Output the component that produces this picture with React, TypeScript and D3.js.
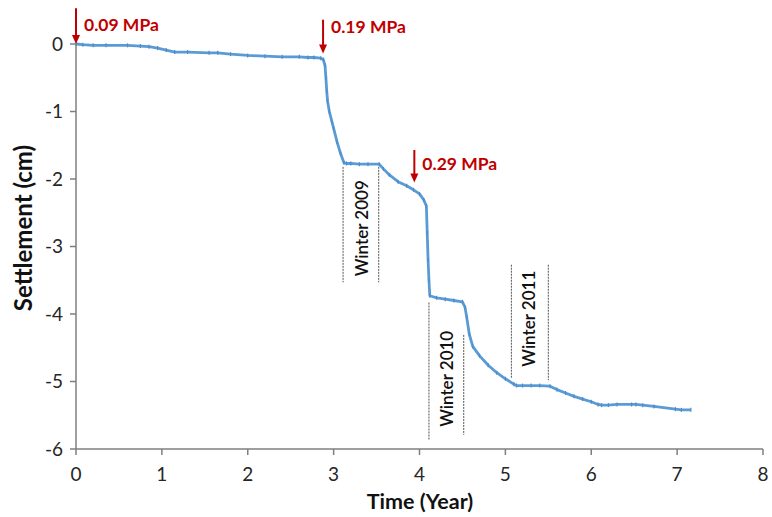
import React from "react";
import * as d3 from "d3";

const timeYears = [0, 0.08, 0.2, 0.35, 0.6, 0.75, 0.85, 0.95, 1.05, 1.15, 1.3, 1.55, 1.65, 1.8, 2.0, 2.2, 2.4, 2.6, 2.7, 2.77, 2.85, 2.88, 2.9, 2.91, 2.92, 2.93, 2.95, 2.98, 3.0, 3.04, 3.08, 3.12, 3.15, 3.2, 3.3, 3.4, 3.53, 3.58, 3.65, 3.75, 3.85, 3.93, 4.0, 4.05, 4.08, 4.09, 4.1, 4.11, 4.12, 4.2, 4.3, 4.4, 4.5, 4.53, 4.55, 4.58, 4.62, 4.7, 4.8, 4.9, 5.0, 5.1, 5.13, 5.2, 5.3, 5.4, 5.52, 5.6, 5.7, 5.8, 5.9, 6.0, 6.08, 6.12, 6.2, 6.3, 6.47, 6.52, 6.6, 6.73, 6.98, 7.05, 7.16];
const settlementCm = [0, -0.01, -0.02, -0.02, -0.02, -0.03, -0.04, -0.06, -0.09, -0.12, -0.12, -0.13, -0.13, -0.15, -0.17, -0.18, -0.19, -0.19, -0.2, -0.2, -0.21, -0.23, -0.32, -0.5, -0.7, -0.85, -1.0, -1.15, -1.25, -1.45, -1.62, -1.76, -1.77, -1.77, -1.78, -1.78, -1.78, -1.85, -1.94, -2.04, -2.1, -2.16, -2.22, -2.31, -2.4, -2.8, -3.2, -3.5, -3.73, -3.76, -3.78, -3.8, -3.82, -3.9, -4.05, -4.3, -4.48, -4.62, -4.76, -4.87, -4.96, -5.04, -5.06, -5.06, -5.06, -5.06, -5.07, -5.12, -5.17, -5.22, -5.26, -5.3, -5.34, -5.35, -5.35, -5.34, -5.34, -5.34, -5.35, -5.37, -5.41, -5.42, -5.42];

const xTicks = [0, 1, 2, 3, 4, 5, 6, 7, 8];
const yTicks = [0, -1, -2, -3, -4, -5, -6];

// load-step arrows: time, top value, tip value, label
const loadTimes = [0, 2.877, 3.94];
const loadTop = [0.53, 0.36, -1.57];
const loadTip = [0, -0.14, -2.05];
const loadLabels = ["0.09 MPa", "0.19 MPa", "0.29 MPa"];
const loadLabelY = [0.2, 0.17, -1.86];

// winter periods: start/end time, dashed line extents, label
const winterLabels = ["Winter 2009", "Winter 2010", "Winter 2011"];
const winterStart = [3.11, 4.11, 5.07];
const winterEnd = [3.525, 4.515, 5.5];
const winterStartTop = [-1.82, -3.83, -3.27];
const winterStartBottom = [-3.53, -5.87, -4.95];
const winterEndTop = [-1.82, -4.31, -3.27];
const winterEndBottom = [-3.53, -5.79, -4.98];
const winterLabelT = [3.33, 4.32, 5.27];
const winterLabelS = [-2.73, -4.96, -4.07];

const W = 772;
const H = 517;
const FONT = "Lato, 'Open Sans', sans-serif";
const RED = "#C00000";
const BLUE = "#5B9BD5";
const AXIS = "#7f7f7f";

export default function App() {
  const x = d3.scaleLinear().domain([0, 8]).range([76, 763]);
  const y = d3.scaleLinear().domain([0, -6]).range([44, 449]);
  const pts = timeYears.map((t, i) => [t, settlementCm[i]] as [number, number]);
  const line = d3.line<[number, number]>().x((d) => x(d[0])).y((d) => y(d[1]));

  return (
    <svg width={W} height={H} style={{ position: "absolute", left: 0, top: 0, background: "#fff" }} fontFamily={FONT}>
      {/* axes */}
      <line x1={x(0)} x2={x(8)} y1={y(-6)} y2={y(-6)} stroke={AXIS} strokeWidth={1.5} />
      <line x1={x(0)} x2={x(0)} y1={y(0)} y2={y(-6)} stroke={AXIS} strokeWidth={1.5} />
      {xTicks.map((t) => (
        <g key={"xt" + t}>
          <line x1={x(t)} x2={x(t)} y1={y(-6)} y2={y(-6) + 6} stroke={AXIS} strokeWidth={1.5} />
          <text x={x(t)} y={y(-6) + 32} textAnchor="middle" fontSize={19} fill="#262626">{t}</text>
        </g>
      ))}
      {yTicks.map((v) => (
        <g key={"yt" + v}>
          <line x1={x(0) - 6} x2={x(0)} y1={y(v)} y2={y(v)} stroke={AXIS} strokeWidth={1.5} />
          <text x={x(0) - 13} y={y(v)} dy="0.36em" textAnchor="end" fontSize={19} fill="#262626">{v}</text>
        </g>
      ))}
      <text x={420} y={509} textAnchor="middle" fontSize={21.5} fontWeight="bold" fill="#111">Time (Year)</text>
      <text transform={`translate(32,${228}) rotate(-90)`} textAnchor="middle" fontSize={24} fontWeight="bold" fill="#111">Settlement (cm)</text>

      {/* winter dashed lines */}
      {winterLabels.map((lab, i) => (
        <g key={lab}>
          <line x1={x(winterStart[i])} x2={x(winterStart[i])} y1={y(winterStartTop[i])} y2={y(winterStartBottom[i])} stroke="#555" strokeWidth={1} strokeDasharray="2,1" />
          <line x1={x(winterEnd[i])} x2={x(winterEnd[i])} y1={y(winterEndTop[i])} y2={y(winterEndBottom[i])} stroke="#555" strokeWidth={1} strokeDasharray="2,1" />
          <text transform={`translate(${x(winterLabelT[i])},${y(winterLabelS[i])}) rotate(-90)`} textAnchor="middle" dy="0.36em" fontSize={17} fontWeight={600} fill="#111">{lab}</text>
        </g>
      ))}

      {/* data line */}
      <path d={line(pts) || ""} fill="none" stroke={BLUE} strokeWidth={2.8} strokeLinejoin="round" />
      {pts.map((p, i) => (
        <g key={"m" + i}>
          <line x1={x(p[0])} x2={x(p[0])} y1={y(p[1]) - 2} y2={y(p[1]) + 2} stroke="#4a8ccc" strokeWidth={1.2} />
        </g>
      ))}

      {/* load arrows */}
      {loadLabels.map((lab, i) => {
        const ax = x(loadTimes[i]);
        const top = y(loadTop[i]);
        const tip = y(loadTip[i]);
        return (
          <g key={lab}>
            <line x1={ax} x2={ax} y1={top} y2={tip - 8} stroke={RED} strokeWidth={2} />
            <path d={`M${ax - 4},${tip - 9} L${ax + 4},${tip - 9} L${ax},${tip} Z`} fill={RED} />
            <text x={ax + 8} y={y(loadLabelY[i])} fontSize={17.5} fontWeight="bold" fill={RED}>{lab}</text>
          </g>
        );
      })}
    </svg>
  );
}
